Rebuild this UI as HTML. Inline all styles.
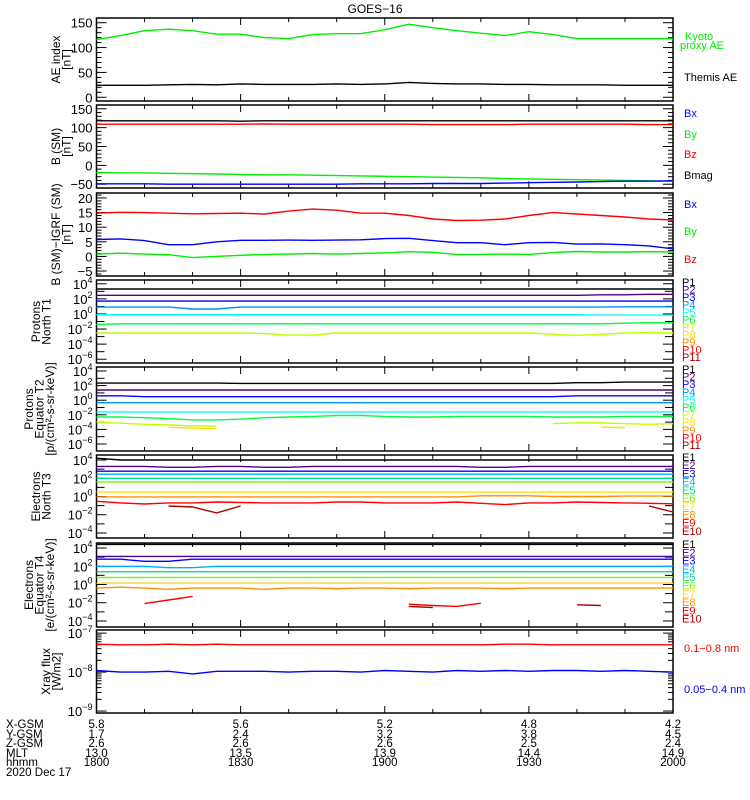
<!DOCTYPE html>
<html><head><meta charset="utf-8"><style>
body{margin:0;background:#fff}
svg{display:block;font-family:"Liberation Sans",sans-serif}
</style></head><body>
<svg id="c" width="750" height="800" viewBox="0 0 750 800">
<rect width="750" height="800" fill="#fff"/>
<text x="375" y="13" text-anchor="middle" font-size="12">GOES−16</text>
</svg>
<script>
// ---- data (25 samples, every 5 min from 18:00 to 20:00) ----
const timeMin = [0,5,10,15,20,25,30,35,40,45,50,55,60,65,70,75,80,85,90,95,100,105,110,115,120];
const hhmmLabels = ["1800","1830","1900","1930","2000"];
const xgsmLabels = ["5.8","5.6","5.2","4.8","4.2"];
const ygsmLabels = ["1.7","2.4","3.2","3.8","4.5"];
const zgsmLabels = ["2.6","2.6","2.6","2.5","2.4"];
const mltLabels = ["13.0","13.5","13.9","14.4","14.9"];

const aeKyoto = [116,124,134,137,134,127,127,120,118,126,128,128,136,147,140,134,129,124,132,126,118,118,118,118,118];
const aeThemis = [24,24,24,25,26,25,27,26,26,26,27,26,27,30,28,27,27,26,26,25,25,25,24,24,24];

const bsmBmag = [118,118,118,118,118,118,117,118,118,118,118,118,118,118,118,118,118,118,118,118,118,118,118,118,118];
const bsmBz = [109,109,109,109,109,109,109,110,109,109,109,109,109,109,108,108,108,108,109,109,109,109,109,108,108];
const bsmBy = [-19,-20,-20,-21,-22,-23,-24,-25,-25,-26,-27,-28,-29,-30,-31,-32,-33,-35,-36,-37,-38,-39,-40,-41,-42];
const bsmBx = [-49,-49,-49,-50,-50,-50,-50,-50,-50,-50,-50,-49,-49,-49,-48,-48,-48,-47,-46,-45,-44,-43,-42,-42,-41];

const igrfBz = [14.8,15.1,15,14.8,14.6,14.7,14.8,14.5,15.5,16.2,15.8,14.8,14.8,14.0,12.8,12.3,12.4,12.8,14.0,15.0,14.5,14.0,13.5,12.8,12.5];
const igrfBx = [5.8,6.0,5.4,4.0,4.0,5.0,5.5,5.5,5.6,5.5,5.6,5.7,6.1,6.2,5.4,4.7,4.7,4.0,4.7,4.8,4.2,4.3,4.0,3.6,2.6];
const igrfBy = [0.8,1.1,0.8,0.6,-0.4,0.0,0.4,0.7,0.8,1.0,0.8,1.0,1.2,1.6,1.4,0.7,0.7,0.8,0.7,1.3,1.7,1.5,1.5,1.6,1.5];

const pnP1 = Array(25).fill(2e3);
const pnP2 = [3e2,3e2,3e2,3e2,3e2,3e2,3e2,3e2,3e2,3e2,3e2,3e2,3e2,3e2,3e2,3e2,3e2,3e2,3e2,3e2,3e2,3.5e2,3.5e2,4e2,4e2];
const pnP3 = Array(25).fill(5e1);
const pnP4 = [8,8,8,8,4.5,4.5,8,8,8,8,8,8,8,8,8,8,8,8,8,8,8,8,9,9,9];
const pnP5 = [0.8,0.8,0.8,0.8,0.8,0.8,0.8,0.8,0.8,0.8,0.8,0.8,0.8,0.8,0.8,0.8,0.8,0.8,0.8,0.8,0.8,0.7,0.7,0.7,0.7];
const pnP6 = [4e-2,5e-2,5e-2,5e-2,5e-2,5e-2,5e-2,5e-2,5e-2,5e-2,5e-2,5e-2,5e-2,5e-2,5e-2,5e-2,5e-2,5e-2,5e-2,5e-2,5e-2,5e-2,6e-2,7e-2,7e-2];
const pnP7 = [3e-3,3e-3,3e-3,3e-3,3e-3,3e-3,3e-3,2.5e-3,1.6e-3,1.6e-3,3e-3,3e-3,3e-3,3e-3,3e-3,3e-3,3e-3,3e-3,3e-3,2e-3,1.5e-3,2e-3,3e-3,3.5e-3,3e-3];

const peP1 = [2.2e2,2.2e2,2.2e2,2.2e2,2.2e2,2.2e2,2e2,2e2,2e2,2e2,2e2,2e2,2e2,2e2,2e2,2e2,2e2,2e2,2e2,2e2,2.5e2,2.5e2,3e2,3e2,3e2];
const peP2 = Array(25).fill(2.5e1);
const peP3 = [4,4,3,3,3,3,3,3,3,3,3,3,3,3,3,3,3,3,3,3,4,4,4,4,4];
const peP4 = Array(25).fill(0.45);
const peP5 = Array(25).fill(2.5e-2);
const peP6 = [5e-3,5e-3,4e-3,3e-3,2e-3,2e-3,2.5e-3,4e-3,5e-3,6e-3,8e-3,8e-3,6e-3,5e-3,5e-3,6e-3,6e-3,6e-3,6e-3,5e-3,5e-3,5e-3,6e-3,6e-3,6e-3];
const peP7 = [1e-3,7e-4,5e-4,4e-4,3e-4,3e-4,null,null,null,null,null,null,null,null,null,null,null,null,null,6e-4,8e-4,8e-4,6e-4,5e-4,6e-4];
const peP8 = [null,null,null,2e-4,1.5e-4,1.2e-4,null,null,null,null,null,null,null,null,null,null,null,null,null,null,null,2e-4,1.8e-4,null,null];

const enE1 = [1.6e4,1e4,1e4,1e4,1e4,1e4,1e4,1e4,1e4,1e4,1e4,1e4,1e4,1e4,1e4,1e4,1e4,1e4,1e4,1e4,1e4,1e4,1e4,1e4,1e4];
const enE2 = [2e3,2e3,2e3,1.6e3,1.6e3,2e3,2e3,1.6e3,1.6e3,2e3,2e3,2e3,2e3,2e3,2e3,2e3,1.6e3,1.6e3,2e3,2e3,2e3,2e3,2e3,2e3,2e3];
const enE3 = Array(25).fill(6e2);
const enE4 = Array(25).fill(2.8e2);
const enE5 = Array(25).fill(1e2);
const enE6 = Array(25).fill(4e1);
const enE7 = Array(25).fill(3);
const enE8 = [0.9,0.9,0.9,0.9,0.9,0.9,0.9,0.9,0.9,0.9,0.9,0.9,0.9,0.9,0.9,0.9,1.2,1.2,1.2,1.0,1.0,1.0,1.1,1.1,1.1];
const enE9 = [0.3,0.2,0.15,0.2,0.2,0.25,0.22,0.2,0.2,0.2,0.25,0.25,0.2,0.2,0.2,0.25,0.18,0.13,0.2,0.2,0.25,0.22,0.2,0.18,0.16];
const enE10 = [null,null,null,9e-2,7e-2,1.6e-2,9e-2,null,null,null,null,null,null,null,null,null,null,null,null,null,null,null,null,9e-2,2e-2];

const eeE1 = Array(25).fill(2.5e4);
const eeE2 = Array(25).fill(1.2e3);
const eeE3 = [6e2,6e2,3.5e2,3.5e2,6e2,6e2,6e2,6e2,6e2,6e2,6e2,6e2,6e2,6e2,6e2,6e2,6e2,6e2,6e2,6e2,6e2,6e2,6e2,6e2,6e2];
const eeE4 = [1e2,1e2,1e2,7e1,7e1,1e2,1e2,1e2,1e2,1e2,1e2,1e2,1e2,1e2,1e2,1e2,1e2,1e2,1e2,1e2,1e2,1e2,1e2,1e2,1e2];
const eeE5 = Array(25).fill(2.5e1);
const eeE6 = Array(25).fill(6);
const eeE7 = Array(25).fill(1.4);
const eeE8 = [0.4,0.5,0.4,0.3,0.4,0.4,0.4,0.3,0.4,0.4,0.35,0.4,0.4,0.35,0.4,0.4,0.4,0.35,0.4,0.4,0.4,0.4,0.4,0.4,0.4];
const eeE9 = [null,null,8e-3,2e-2,5e-2,null,null,null,null,null,null,null,null,7e-3,5e-3,4e-3,9e-3,null,null,null,null,5e-3,null,null,null];
const eeE10 = [null,null,null,null,null,null,null,null,null,null,null,null,null,4e-3,3e-3,null,null,null,null,null,6e-3,5e-3,null,null,null];

const xrLong = [5.2e-8,5e-8,5e-8,5.2e-8,5e-8,5.2e-8,5e-8,5e-8,5e-8,5e-8,5e-8,5e-8,5e-8,5e-8,5e-8,5e-8,5e-8,5.2e-8,5.2e-8,5e-8,5e-8,5e-8,5e-8,5e-8,5e-8];
const xrShort = [1.1e-8,1e-8,1e-8,1.05e-8,0.9e-8,1.05e-8,1.05e-8,1.05e-8,1e-8,1.05e-8,1.05e-8,1e-8,1.1e-8,1.05e-8,1e-8,1.1e-8,1.05e-8,1.1e-8,1.05e-8,1.1e-8,1.1e-8,1.05e-8,1.1e-8,1.05e-8,1e-8];

// ---- layout ----
const svg = document.getElementById('c');
const NS = 'http://www.w3.org/2000/svg';
const X0 = 96.5, X1 = 673, TMAX = 120;
const xs = t => X0 + (X1 - X0) * t / TMAX;
function el(tag, attrs, parent) {
  const e = document.createElementNS(NS, tag);
  for (const k in attrs) e.setAttribute(k, attrs[k]);
  (parent || svg).appendChild(e);
  return e;
}
const C = {black:'#000',purple:'#500090',blue:'#0000ff',lblue:'#0090ff',cyan:'#00ffff',green:'#00ff40',lgreen:'#c0ff00',yellow:'#ffe000',orange:'#ff9000',red:'#ff0000',dred:'#b00000',teal:'#00e090',egreen:'#70ff00',e4:'#00b0ff',g:'#00ee00'};

function panel(name, top, h, ymin, ymax, log, opts) {
  const g = el('g', {});
  
  
  const ys = v => {
    const u = log ? Math.log10(v) : v;
    return top + h * (ymax - u) / (ymax - ymin);
  };
  el('rect', {x:X0, y:top, width:X1-X0, height:h, fill:'none', stroke:'#000', 'stroke-width':1.5}, g);
  for (let t = 0; t <= TMAX; t += 10) {
    const len = (t % 30 === 0) ? 7 : 4;
    const x = xs(t);
    el('line', {x1:x, x2:x, y1:top+h, y2:top+h-len, stroke:'#000'}, g);
    el('line', {x1:x, x2:x, y1:top, y2:top+len, stroke:'#000'}, g);
  }
  const ticks = [];
  if (!log) {
    for (let v = Math.ceil(ymin/opts.minor)*opts.minor; v <= ymax; v += opts.minor) {
      const major = Math.abs(v % opts.major) < 1e-9;
      ticks.push([ys(v), major, major ? String(v).replace('-', '−') : null]);
    }
  } else {
    for (let d = Math.ceil(ymin); d <= Math.floor(ymax); d++) {
      const lab = (d - opts.labOff) % opts.labStep === 0;
      ticks.push([ys(Math.pow(10, d)), lab, lab ? d : null, true]);
      if (opts.minorLog) for (let m = 2; m <= 9; m++) {
        const v = Math.log10(m) + d;
        if (v <= ymax) ticks.push([ys(Math.pow(10, v)), false, null]);
      }
    }
  }
  ticks.forEach(([y, major, lab, dec]) => {
    const len = major ? 10 : (dec ? 8 : 5);
    el('line', {x1:X0, x2:X0+len, y1:y, y2:y, stroke:'#000'}, g);
    el('line', {x1:X1, x2:X1-len, y1:y, y2:y, stroke:'#000'}, g);
    if (lab !== null) {
      const tx = el('text', {x:X0-4, y:y+5, 'text-anchor':'end', 'font-size':13}, g);
      if (log) {
        tx.textContent = '10';
        const s = el('tspan', {'font-size':9, dy:-6}, tx);
        s.textContent = String(lab).replace('-', '−');
      } else tx.textContent = lab;
    }
  });
  opts.title.forEach((ln, i) => {
    const cx = opts.tx + i * 10.5, cy = top + h / 2;
    const t = el('text', {x:cx, y:cy, 'text-anchor':'middle', 'font-size':12, transform:`rotate(-90 ${cx} ${cy})`}, g);
    t.textContent = ln;
    
    
  });
  return {g, ys};
}

function series(p, name, data, color) {
  let d = '';
  let pen = false;
  data.forEach((v, i) => {
    if (v === null) { pen = false; return; }
    d += (pen ? 'L' : 'M') + xs(timeMin[i]).toFixed(1) + ' ' + p.ys(v).toFixed(1);
    pen = true;
  });
  const path = el('path', {d, fill:'none', stroke:color, 'stroke-width':1.4}, p.g);
  
  
}
function legend(name, txt, y, color, x) {
  const t = el('text', {x: x || 684, y, 'font-size':11, fill:color});
  t.textContent = txt;
  
  
}

const p1 = panel('ae-index', 18, 83, -7.5, 159.5, false, {major:50, minor:10, title:['AE index','[nT]'], tx:60});
series(p1, 'kyoto-ae-line', aeKyoto, C.g);
series(p1, 'themis-ae-line', aeThemis, C.black);
legend('legend-kyoto', 'Kyoto', 40, C.g, 685);
legend('legend-proxy-ae', 'proxy AE', 49, C.g, 680);
legend('legend-themis-ae', 'Themis AE', 81, C.black);

const p2 = panel('b-sm', 105, 83, -60, 160, false, {major:50, minor:10, title:['B (SM)','[nT]'], tx:60});
series(p2, 'bsm-bmag-line', bsmBmag, C.black);
series(p2, 'bsm-bz-line', bsmBz, C.red);
series(p2, 'bsm-by-line', bsmBy, C.g);
series(p2, 'bsm-bx-line', bsmBx, C.blue);
legend('legend-bx', 'Bx', 117, C.blue);
legend('legend-by', 'By', 138, C.g);
legend('legend-bz', 'Bz', 158, C.red);
legend('legend-bmag', 'Bmag', 179, C.black);

const p3 = panel('b-igrf', 193, 83, -6.7, 21.7, false, {major:5, minor:1, title:['B (SM)−IGRF (SM)','[nT]'], tx:60});
series(p3, 'igrf-bz-line', igrfBz, C.red);
series(p3, 'igrf-bx-line', igrfBx, C.blue);
series(p3, 'igrf-by-line', igrfBy, C.g);
legend('legend-igrf-bx', 'Bx', 208, C.blue);
legend('legend-igrf-by', 'By', 235, C.g);
legend('legend-igrf-bz', 'Bz', 263, C.red);

const p4 = panel('protons-north', 280, 83, -6.5, 4.5, true, {labStep:2, labOff:0, title:['Protons','North T1'], tx:40});
[[pnP1,C.black],[pnP2,C.purple],[pnP3,C.blue],[pnP4,C.lblue],[pnP5,C.cyan],[pnP6,C.green],[pnP7,C.lgreen]].forEach((s,i)=>series(p4,'proton-north-p'+(i+1)+'-line',s[0],s[1]));
const pcols = [C.black,C.purple,C.blue,C.lblue,C.cyan,C.green,C.lgreen,C.yellow,C.orange,C.red,C.dred];
pcols.forEach((c,i)=>legend('legend-pn-p'+(i+1),'P'+(i+1),286+i*7.5,c,682));

const p5 = panel('protons-equator', 367, 84, -6.96, 4.55, true, {labStep:2, labOff:0, title:['Protons','Equator T2','[p/(cm²-s-sr-keV)]'], tx:33});
[[peP1,C.black],[peP2,C.purple],[peP3,C.blue],[peP4,C.lblue],[peP5,C.cyan],[peP6,C.green],[peP7,C.lgreen],[peP8,C.yellow]].forEach((s,i)=>series(p5,'proton-equator-p'+(i+1)+'-line',s[0],s[1]));
pcols.forEach((c,i)=>legend('legend-pe-p'+(i+1),'P'+(i+1),373+i*7.6,c,682));

const p6 = panel('electrons-north', 455, 83, -4.55, 4.55, true, {labStep:2, labOff:0, title:['Electrons','North T3'], tx:40});
const ecols = [C.black,C.purple,C.blue,C.e4,C.teal,C.egreen,C.yellow,C.orange,C.red,C.dred];
[enE1,enE2,enE3,enE4,enE5,enE6,enE7,enE8,enE9,enE10].forEach((s,i)=>series(p6,'electron-north-e'+(i+1)+'-line',s,ecols[i]));
ecols.forEach((c,i)=>legend('legend-en-e'+(i+1),'E'+(i+1),461+i*8.2,c,682));

const p7 = panel('electrons-equator', 543, 84, -4.66, 4.55, true, {labStep:2, labOff:0, title:['Electrons','Equator T4','[e/(cm²-s-sr-keV)]'], tx:33});
[eeE1,eeE2,eeE3,eeE4,eeE5,eeE6,eeE7,eeE8,eeE9,eeE10].forEach((s,i)=>series(p7,'electron-equator-e'+(i+1)+'-line',s,ecols[i]));
ecols.forEach((c,i)=>legend('legend-ee-e'+(i+1),'E'+(i+1),548+i*8.3,c,682));

const p8 = panel('xray-flux', 630, 83, -9.05, -6.92, true, {labStep:1, labOff:0, minorLog:true, title:['Xray flux','[W/m2]'], tx:50});
series(p8, 'xray-long-line', xrLong, C.red);
series(p8, 'xray-short-line', xrShort, C.blue);
legend('legend-xray-long', '0.1−0.8 nm', 652, C.red);
legend('legend-xray-short', '0.05−0.4 nm', 693, C.blue);

const rows = [['X-GSM', xgsmLabels, 728],['Y-GSM', ygsmLabels, 738],['Z-GSM', zgsmLabels, 747],['MLT', mltLabels, 757],['hhmm', hhmmLabels, 766]];
rows.forEach(([lab, arr, y]) => {
  const t = el('text', {x:6, y, 'font-size':11.5});
  t.textContent = lab;
  
  
  arr.forEach((v, i) => {
    const tt = el('text', {x:xs(i*30), y, 'font-size':11.5, 'text-anchor':'middle'});
    tt.textContent = v;
    
    
  });
});
const dt = el('text', {x:6, y:776, 'font-size':11.5});
dt.textContent = '2020 Dec 17';


</script>
</body></html>
